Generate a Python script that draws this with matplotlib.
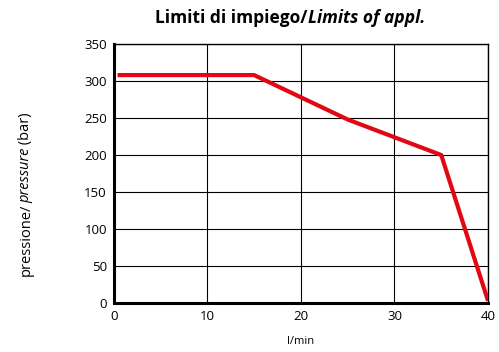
import matplotlib
matplotlib.use("Agg")
import matplotlib.pyplot as plt
from matplotlib.transforms import offset_copy

# data
flow = [0.4, 15, 25, 35, 40]
pressure = [308, 308, 248, 200, 3]
xticks = [0, 10, 20, 30, 40]
yticks = [0, 50, 100, 150, 200, 250, 300, 350]

plt.rcParams['font.family'] = ['Open Sans', 'DejaVu Sans']

fig = plt.figure(figsize=(4.99, 3.52), dpi=100)
ax = fig.add_axes([0.228, 0.139, 0.75, 0.736])

ax.plot(flow, pressure, color="#e30613", lw=3, solid_capstyle="butt", zorder=3)
ax.set_xlim(0, 40)
ax.set_ylim(0, 350)
ax.set_xticks(xticks)
ax.set_yticks(yticks)
ax.grid(True, color="black", lw=0.8)
ax.tick_params(length=0, labelsize=9.5, pad=5)
for s in ["left", "bottom"]:
    ax.spines[s].set_linewidth(2.2)
for s in ["top", "right"]:
    ax.spines[s].set_linewidth(1)
ax.set_xlabel("l/min", fontsize=8, labelpad=9)


def draw_pieces(pieces, x, y, rotation=0, size=10, weight="normal"):
    # draw text pieces one after another, centred on (x, y) in figure pixels
    renderer = fig.canvas.get_renderer()
    widths = []
    for txt, style in pieces:
        t = fig.text(0, 0, txt, fontsize=size, style=style, weight=weight)
        widths.append(t.get_window_extent(renderer).width)
        t.remove()
    total = sum(widths)
    pos = -total / 2
    for (txt, style), w in zip(pieces, widths):
        if rotation == 0:
            tr = offset_copy(fig.transFigure, fig=fig, x=pos, y=0, units="dots")
        else:
            tr = offset_copy(fig.transFigure, fig=fig, x=0, y=pos, units="dots")
        fig.text(x / 499, 1 - y / 352, txt, fontsize=size, style=style,
                 weight=weight, transform=tr, ha="left", va="center",
                 rotation=rotation, rotation_mode="anchor")
        pos += w


draw_pieces([("Limiti di impiego/", "normal"), ("Limits of appl.", "italic")],
            290, 18, size=12.5, weight="bold")
draw_pieces([("pressione/", "normal"), ("pressure", "italic"), (" (bar)", "normal")],
            26, 194, rotation=90, size=10.5)

fig.savefig("out.png", dpi=100)
